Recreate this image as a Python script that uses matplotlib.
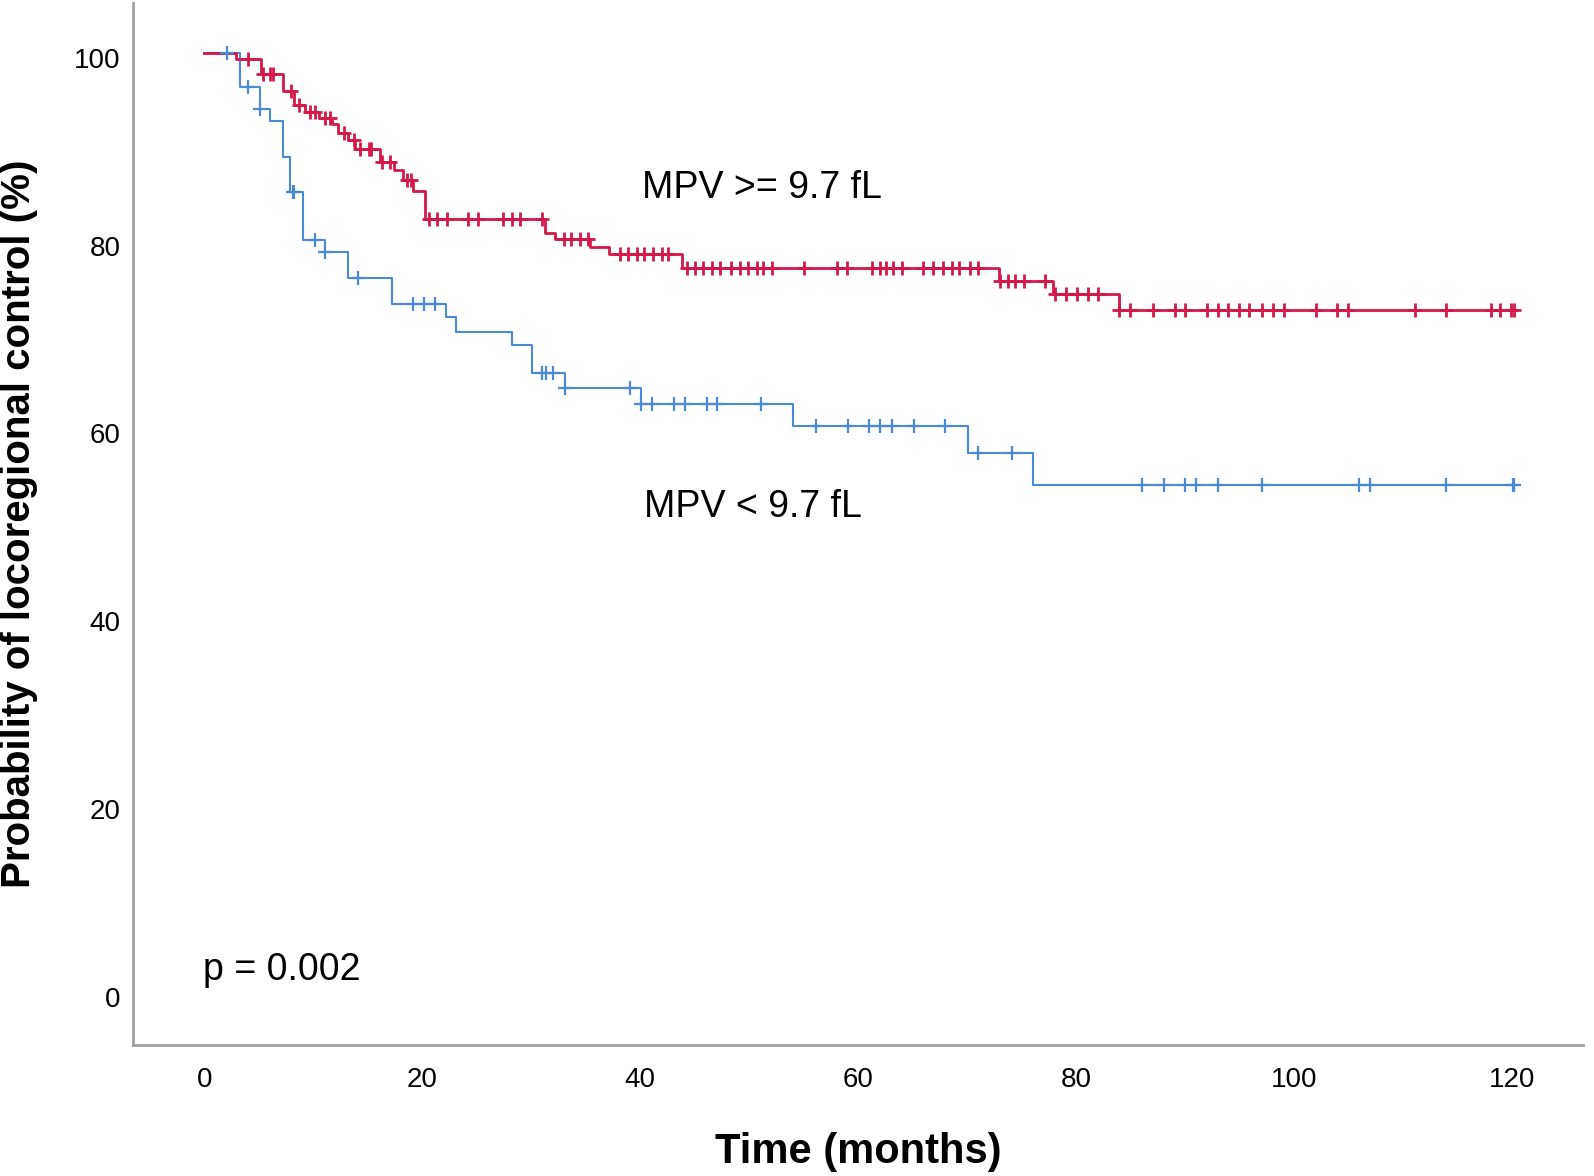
import numpy as np
import matplotlib
matplotlib.use("Agg")
import matplotlib.pyplot as plt
import matplotlib.transforms as mtransforms

# ---- data ----
# MPV >= 9.7 fL group: event times (months) and survival level after each event (%)
high_event_times = [2.9, 5.2, 7.25, 8.2, 9.2, 10.5, 11.7, 12.3, 13.2, 13.8, 16.1, 17.4,
                    18.2, 19.2, 20.3, 31.3, 32.2, 35.4, 37.1, 43.8, 72.9, 77.9, 84.0]
high_levels = [99.3, 97.7, 95.9, 94.4, 93.7, 93.0, 92.4, 91.4, 90.7, 89.8, 88.4, 87.5,
               86.4, 85.3, 82.3, 80.8, 80.2, 79.35, 78.6, 77.1, 75.7, 74.3, 72.6]
high_censored = [4.0, 5.4, 6.0, 6.3, 8.0, 8.7, 9.7, 10.2, 11.1, 11.5, 12.8, 13.7, 14.3,
                 15.1, 15.3, 16.3, 17.0, 18.6, 19.0, 20.6, 21.4, 22.3, 24.2, 25.1, 27.4,
                 28.2, 29.0, 31.0, 33.0, 33.7, 34.5, 35.2, 38.2, 38.9, 39.7, 40.4, 41.2,
                 42.0, 42.6, 44.3, 45.0, 45.8, 46.6, 47.3, 48.3, 49.2, 49.9, 50.7, 51.3,
                 52.1, 55.0, 58.1, 59.0, 61.3, 62.0, 62.6, 63.2, 64.0, 66.0, 66.9, 67.8,
                 68.6, 69.3, 70.3, 71.0, 73.0, 73.8, 74.4, 75.2, 77.2, 78.1, 79.1, 80.1,
                 81.1, 82.0, 84.0, 85.0, 87.1, 89.1, 90.0, 92.0, 93.0, 94.0, 95.0, 95.9,
                 97.1, 98.1, 99.1, 102.0, 104.0, 105.0, 111.1, 114.0, 118.1, 118.9, 119.9,
                 120.2]

# MPV < 9.7 fL group
low_event_times = [3.3, 5.1, 6.0, 7.2, 7.9, 9.1, 11.1, 13.2, 17.2, 22.2, 23.1, 28.2,
                   30.1, 33.1, 40.1, 54.0, 70.1, 76.1]
low_levels = [96.4, 94.0, 92.7, 88.9, 85.2, 80.1, 78.8, 76.0, 73.2, 71.9, 70.3, 68.9,
              65.9, 64.3, 62.6, 60.3, 57.4, 54.0]
low_censored = [2.1, 4.0, 5.1, 8.1, 8.2, 10.2, 11.1, 14.1, 19.2, 20.2, 21.2, 31.0, 31.4,
                32.0, 33.1, 39.1, 40.1, 41.1, 43.1, 44.1, 46.1, 47.1, 51.1, 56.1, 59.1,
                61.0, 62.0, 63.1, 65.1, 68.0, 71.0, 74.1, 86.1, 88.1, 90.0, 91.0, 93.0,
                97.1, 106.0, 107.0, 114.0, 120.1, 120.2]

x_ticks = [0, 20, 40, 60, 80, 100, 120]
y_ticks = [0, 20, 40, 60, 80, 100]
label_high = "MPV >= 9.7 fL"
label_low = "MPV < 9.7 fL"
p_text = "p = 0.002"

RED = "#D5184A"
BLUE = "#4A8AD4"

plt.rcParams['font.family'] = ['Liberation Sans', 'DejaVu Sans']

fig = plt.figure(figsize=(15.94, 11.76), dpi=100)
ax = fig.add_axes([133 / 1594, 1 - 1045 / 1176, (1583 - 133) / 1594, (1045 - 3) / 1176])


def km_curve(times, levels, censored, color, lw, mew):
    t = np.asarray(times, float)
    lv = np.asarray(levels, float)
    end = max(max(censored), t[-1])
    xs = np.concatenate([[0.0], t, [end]])
    ys = np.concatenate([[100.0], lv, [lv[-1]]])
    ax.plot(xs, ys, drawstyle='steps-post', color=color, lw=lw, zorder=3)
    c = np.asarray(censored, float)
    idx = np.searchsorted(t, c, side='right')
    full = np.concatenate([[100.0], lv])
    ax.plot(c, full[idx], linestyle='none', marker='+', markersize=10, mew=mew,
            color=color, zorder=4)


km_curve(low_event_times, low_levels, low_censored, BLUE, 1.5, 1.6)
km_curve(high_event_times, high_levels, high_censored, RED, 2.0, 2.0)

y_lo = (992 - 1045) / 9.393
y_hi = (992 - 3) / 9.393
ax.set_xlim((133 - 204.3) / 10.895, (1583 - 204.3) / 10.895)
ax.set_ylim(y_lo, y_hi)

ax.set_xticks(x_ticks)
ax.set_yticks(y_ticks)
ax.tick_params(axis='both', length=0, labelsize=20)
ax.tick_params(axis='x', pad=16)
ax.tick_params(axis='y', pad=9)
offset = mtransforms.ScaledTranslation(0, -5 / 100, fig.dpi_scale_trans)
for lab in ax.get_yticklabels():
    lab.set_transform(lab.get_transform() + offset)

for s in ['top', 'right']:
    ax.spines[s].set_visible(False)
for s in ['left', 'bottom']:
    ax.spines[s].set_color('#A0A0A0')
    ax.spines[s].set_linewidth(2.0)

ax.set_xlabel("Time (months)", fontsize=30, fontweight='bold', labelpad=28)
fig.text(19 / 1594, 1 - 524 / 1176, "Probability of locoregional control (%)",
         fontsize=29, fontweight='bold', rotation=90, ha='center', va='center')

ax.text(40.2, 85.6, label_high, fontsize=27, va='center', ha='left')
ax.text(40.4, 51.6, label_low, fontsize=27, va='center', ha='left')
ax.text(-0.1, 2.3, p_text, fontsize=27, va='center', ha='left')

fig.savefig("out.png", dpi=100)
